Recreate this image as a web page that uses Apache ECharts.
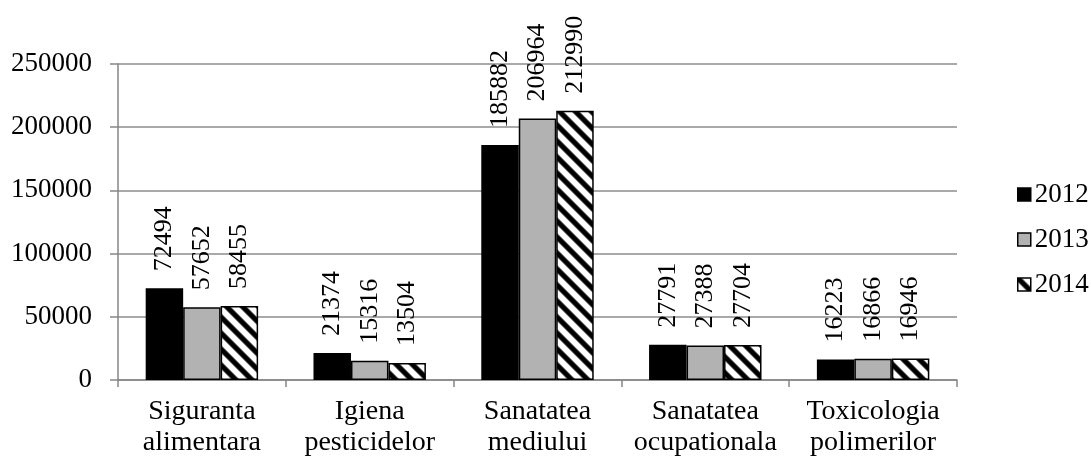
<!DOCTYPE html>
<html>
<head>
<meta charset="utf-8">
<script src="https://cdn.jsdelivr.net/npm/echarts@6/dist/echarts.min.js"></script>
<style>
  html, body { margin: 0; padding: 0; background: #fff; }
  #chart { width: 1091px; height: 459px; }
</style>
</head>
<body>
<div id="chart"></div>
<script>
// Categories (two-line axis labels) and yearly counts
const categories = [
  'Siguranta\nalimentara',
  'Igiena\npesticidelor',
  'Sanatatea\nmediului',
  'Sanatatea\nocupationala',
  'Toxicologia\npolimerilor'
];
const years = ['2012', '2013', '2014'];
const values2012 = [72494, 21374, 185882, 27791, 16223];
const values2013 = [57652, 15316, 206964, 27388, 16866];
const values2014 = [58455, 13504, 212990, 27704, 16946];
const yTicks = [0, 50000, 100000, 150000, 200000, 250000];

const FONT = "'Liberation Serif', 'Times New Roman', serif";

// Soft diagonal stripe tile ("\" direction) used as the 2014 fill
function stripeTile(period) {
  const c = document.createElement('canvas');
  c.width = period; c.height = period;
  const ctx = c.getContext('2d');
  const img = ctx.createImageData(period, period);
  for (let y = 0; y < period; y++) {
    for (let x = 0; x < period; x++) {
      const d = (((x - y) % period) + period) % period / period;
      let v = 0.5 - 0.5 * Math.cos(2 * Math.PI * d); // 0 = black stripe centre
      v = Math.min(1, Math.max(0, (v - 0.45) * 2.2 + 0.5));
      const g = Math.round(v * 255);
      const i = (y * period + x) * 4;
      img.data[i] = g; img.data[i + 1] = g; img.data[i + 2] = g; img.data[i + 3] = 255;
    }
  }
  ctx.putImageData(img, 0, 0);
  return c;
}

const fills = ['#000000', '#b2b2b2', { image: stripeTile(16), repeat: 'repeat' }];
const seriesValues = [values2012, values2013, values2014];

const chart = echarts.init(document.getElementById('chart'), null, { renderer: 'canvas' });

chart.setOption({
  animation: false,
  backgroundColor: '#ffffff',
  grid: { left: 118, right: 134, top: 64, bottom: 79, containLabel: false },
  legend: {
    orient: 'vertical',
    left: 1012,
    top: 176,
    itemWidth: 13,
    itemHeight: 13,
    itemGap: 18,
    icon: 'rect',
    data: years,
    textStyle: { fontFamily: FONT, fontSize: 27, color: '#000', padding: [0, 0, 0, -1] },
    itemStyle: { borderColor: '#000', borderWidth: 1.5 }
  },
  xAxis: {
    type: 'category',
    data: categories,
    axisLine: { show: true, lineStyle: { color: '#868686', width: 1.5 } },
    axisTick: { show: true, alignWithLabel: false, length: 7, lineStyle: { color: '#868686', width: 1.5 } },
    axisLabel: {
      fontFamily: FONT, fontSize: 28, color: '#000', lineHeight: 31, margin: 16, interval: 0
    },
    splitLine: { show: false }
  },
  yAxis: {
    type: 'value',
    min: yTicks[0],
    max: yTicks[yTicks.length - 1],
    interval: yTicks[1] - yTicks[0],
    axisLine: { show: true, lineStyle: { color: '#868686', width: 1.5 } },
    axisTick: { show: true, inside: false, length: 8, lineStyle: { color: '#868686', width: 1.5 } },
    axisLabel: {
      fontFamily: FONT, fontSize: 27, color: '#000', margin: 26,
      formatter: (v) => String(v)
    },
    splitLine: { show: true, lineStyle: { color: '#8c8c8c', width: 1.5 } }
  },
  series: years.map((y, k) => ({
    name: y,
    type: 'bar',
    data: seriesValues[k],
    barGap: '0%',
    barCategoryGap: '33%',
    itemStyle: { color: fills[k], borderColor: '#000', borderWidth: 1.5 },
    label: {
      show: true,
      position: 'top',
      rotate: 90,
      align: 'left',
      verticalAlign: 'middle',
      distance: 17,
      fontFamily: FONT,
      fontSize: 26,
      color: '#000'
    }
  }))
});
</script>
</body>
</html>
